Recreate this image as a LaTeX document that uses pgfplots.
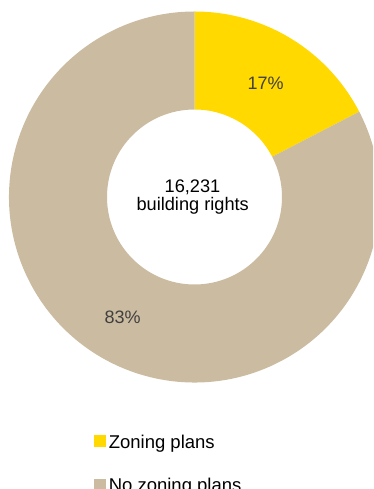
\documentclass[border=0pt]{standalone}
\usepackage{fontspec}
\setmainfont{Liberation Sans}
\usepackage{pgfplots}
\usepackage{pgfplotstable}
\pgfplotsset{compat=1.18}
\definecolor{zon}{RGB}{255,217,0}
\definecolor{nozon}{RGB}{203,187,160}
\definecolor{lbl}{RGB}{64,64,64}
\pgfplotstableread{
share
17.4
82.6
}\shares
\begin{document}
\begin{tikzpicture}
\pgfplotstablegetelem{0}{share}\of\shares \let\sa\pgfplotsretval
\pgfmathsetmacro\aend{90-3.6*\sa}
\begin{axis}[name=ax, at={(0,0)}, anchor=south west,
  scale only axis, width=373pt, height=489pt,
  xmin=0, xmax=373, ymin=0, ymax=489, hide axis, clip=true,
  legend style={draw=none, fill=none, at={(axis cs:94,53.7)}, anchor=north west,
    inner sep=0pt, row sep=26.9pt, column sep=3.2pt,
    nodes={inner sep=0pt, text height=12pt, text depth=4pt, font=\fontsize{18.5}{20}\selectfont}},
  legend cell align=left]
\clip (axis cs:0,0) rectangle (axis cs:373,489);
\coordinate (c) at (axis cs:194.5,292);
\fill[zon] ([shift={(90:185.5pt)}]c) arc[start angle=90, end angle=\aend, radius=185.5pt]
  -- ([shift={(\aend:87.5pt)}]c) arc[start angle=\aend, end angle=90, radius=87.5pt] -- cycle;
\fill[nozon] ([shift={(\aend:185.5pt)}]c) arc[start angle=\aend, end angle=-270, radius=185.5pt]
  -- ([shift={(-270:87.5pt)}]c) arc[start angle=-270, end angle=\aend, radius=87.5pt] -- cycle;
\node[lbl, font=\fontsize{18}{20}\selectfont] at (axis cs:265.7,405.7) {17\%};
\node[lbl, font=\fontsize{18}{20}\selectfont] at (axis cs:122.7,171.7) {83\%};
\node[anchor=base, inner sep=0pt, font=\fontsize{18.2}{20}\selectfont] at (axis cs:192.5,296.7) {16,231};
\node[anchor=base, inner sep=0pt, font=\fontsize{18.2}{20}\selectfont] at (axis cs:192.7,278) {building rights};
\addlegendimage{legend image code/.code={\fill[zon] (0pt,-2.5pt) rectangle (11pt,8.5pt);}}
\addlegendentry{Zoning plans}
\addlegendimage{legend image code/.code={\fill[nozon] (0pt,-2.5pt) rectangle (11pt,8.5pt);}}
\addlegendentry{No zoning plans}
\end{axis}
\pgfresetboundingbox
\useasboundingbox (0,0) rectangle (373pt,489pt);
\end{tikzpicture}
\end{document}
